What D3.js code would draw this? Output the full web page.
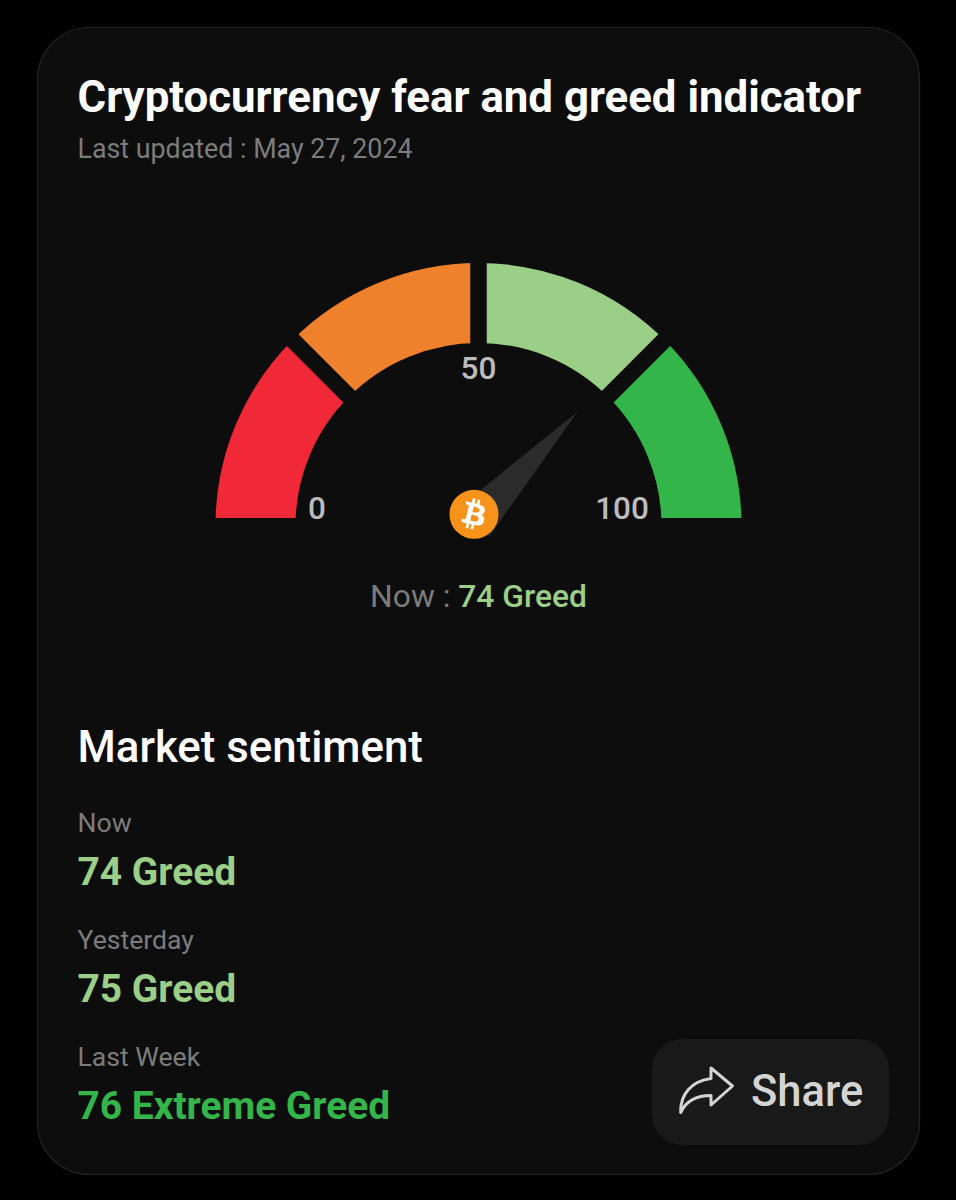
<!DOCTYPE html>
<html>
<head>
<meta charset="utf-8">
<script src="https://cdn.jsdelivr.net/npm/d3@7"></script>
<style>
html,body{margin:0;padding:0;background:#000;}
svg{display:block;font-family:Roboto,sans-serif;}
</style>
</head>
<body>
<svg id="chart" width="956" height="1200"></svg>
<script>
const gaugeStops = [0, 25, 50, 75, 100];
const gaugeColors = ["#f02838", "#ef802c", "#9bce86", "#33b54a"];
const gaugeTicks = [0, 50, 100];
const nowValue = 74;
const nowLabel = "Greed";
const sentimentPeriods = ["Now", "Yesterday", "Last Week"];
const sentimentValues = [74, 75, 76];
const sentimentLabels = ["Greed", "Greed", "Extreme Greed"];
const titleText = "Cryptocurrency fear and greed indicator";
const updatedText = "Last updated : May 27, 2024";

const svg = d3.select("#chart");
const cx = 478.5, cy = 526, rOuter = 263, rInner = 183, clipY = 518;
const pivot = [474, 522], needleLen = 151, needleHalf = 21;
const angle = d3.scaleLinear().domain([0, 100]).range([-Math.PI / 2, Math.PI / 2]);
const labelColor = v => v > 75 ? gaugeColors[3] : gaugeColors[2];

svg.append("rect").attr("width", 956).attr("height", 1200).attr("fill", "#000");
svg.append("rect").attr("x", 37.5).attr("y", 27.5).attr("width", 882).attr("height", 1147)
  .attr("rx", 52).attr("fill", "#0d0d0d").attr("stroke", "#232323").attr("stroke-width", 1.2);

svg.append("text").attr("x", 77.5).attr("y", 112).attr("font-size", 43.8).attr("font-weight", 700)
  .attr("fill", "#fff").text(titleText);
svg.append("text").attr("x", 77.5).attr("y", 158).attr("font-size", 26.8)
  .attr("fill", "#7c7c7c").text(updatedText);

// gauge
svg.append("clipPath").attr("id", "gclip").append("rect")
  .attr("x", 0).attr("y", 0).attr("width", 956).attr("height", clipY);
const arc = d3.arc().innerRadius(rInner).outerRadius(rOuter);
const bands = gaugeColors.map((c, i) => ({ c, a: gaugeStops[i], b: gaugeStops[i + 1] }));
const clipG = svg.append("g").attr("clip-path", "url(#gclip)");
const inner = clipG.append("g").attr("transform", `translate(${cx},${cy})`);
inner.selectAll("path").data(bands).join("path")
  .attr("d", d => arc({ startAngle: angle(d.a), endAngle: angle(d.b) }))
  .attr("fill", d => d.c);
inner.selectAll("line").data(gaugeStops.slice(1, -1)).join("line")
  .attr("x1", d => (rInner - 4) * Math.sin(angle(d)))
  .attr("y1", d => -(rInner - 4) * Math.cos(angle(d)))
  .attr("x2", d => (rOuter + 4) * Math.sin(angle(d)))
  .attr("y2", d => -(rOuter + 4) * Math.cos(angle(d)))
  .attr("stroke", "#0d0d0d").attr("stroke-width", 16.5);

// ticks
const tickX = d3.scaleLinear().domain([0, 50, 100]).range([317, 478.5, 622]);
const tickY = d3.scaleLinear().domain([0, 50, 100]).range([519, 379, 519]);
svg.selectAll("text.tick").data(gaugeTicks).join("text").attr("class", "tick")
  .attr("x", d => tickX(d)).attr("y", d => tickY(d))
  .attr("text-anchor", "middle").attr("font-size", 31.5).attr("font-weight", 500)
  .attr("fill", "#bcbcbc").text(d => d);

// needle
const a = angle(nowValue);
const ux = Math.sin(a), uy = -Math.cos(a);
const needlePts = [
  [pivot[0] - uy * needleHalf, pivot[1] + ux * needleHalf],
  [pivot[0] + ux * needleLen, pivot[1] + uy * needleLen],
  [pivot[0] + uy * needleHalf, pivot[1] - ux * needleHalf]
];
svg.append("path").attr("d", d3.line()(needlePts) + "Z").attr("fill", "#2b2b2b");

// bitcoin hub
const coin = svg.append("g").attr("transform", "translate(474,514.3)");
coin.append("circle").attr("r", 24.5).attr("fill", "#f7931a");
coin.append("path").attr("transform", "scale(0.766) translate(-32,-32)").attr("fill", "#fff")
  .attr("d", "M46.1 27.441c.644-4.3-2.631-6.612-7.106-8.153l1.452-5.825-3.545-.883-1.413 5.671c-.931-.232-1.888-.451-2.839-.669l1.423-5.708-3.544-.883-1.453 5.823c-.772-.176-1.53-.35-2.265-.533l.004-.018-4.889-1.221-.943 3.786s2.63.603 2.575.64c1.436.358 1.696 1.309 1.652 2.062l-1.654 6.634c.099.025.227.061.368.118l-.374-.093-2.319 9.293c-.176.436-.621 1.09-1.625.841.036.052-2.577-.643-2.577-.643l-1.76 4.058 4.614 1.15c.858.215 1.699.44 2.526.652l-1.467 5.891 3.542.883 1.453-5.829c.968.263 1.907.505 2.826.734l-1.448 5.802 3.546.883 1.467-5.881c6.047 1.144 10.594.683 12.508-4.786 1.542-4.403-.077-6.942-3.258-8.598 2.317-.534 4.062-2.058 4.526-5.205zm-8.101 11.36c-1.095 4.403-8.508 2.023-10.911 1.426l1.947-7.804c2.403.6 10.109 1.788 8.964 6.378zm1.097-11.424c-1 4.006-7.17 1.971-9.171 1.472l1.765-7.078c2.001.5 8.442 1.431 7.406 5.606z");

// now readout
const now = svg.append("text").attr("x", 478.5).attr("y", 607).attr("text-anchor", "middle").attr("font-size", 31.8);
now.append("tspan").attr("fill", "#7c7c7c").text("Now : ");
now.append("tspan").attr("fill", labelColor(nowValue)).attr("font-weight", 500).text(`${nowValue} ${nowLabel}`);

// sentiment list
svg.append("text").attr("x", 77.5).attr("y", 762).attr("font-size", 43.8).attr("font-weight", 500)
  .attr("fill", "#fff").text("Market sentiment");
const rowY = d3.scaleLinear().domain([0, 2]).range([832, 1066]);
const rows = svg.selectAll("g.row").data(sentimentPeriods).join("g").attr("class", "row")
  .attr("transform", (d, i) => `translate(77.5,${rowY(i)})`);
rows.append("text").attr("font-size", 26.6).attr("fill", "#7c7c7c").text(d => d);
rows.append("text").attr("y", 53).attr("font-size", 38.9).attr("font-weight", 700)
  .attr("fill", (d, i) => labelColor(sentimentValues[i]))
  .text((d, i) => `${sentimentValues[i]} ${sentimentLabels[i]}`);

// share button
svg.append("rect").attr("x", 652).attr("y", 1039).attr("width", 237).attr("height", 106).attr("rx", 30).attr("fill", "#191919");
svg.append("path").attr("fill", "none").attr("stroke", "#d4d4d4").attr("stroke-width", 3).attr("stroke-linejoin", "round").attr("stroke-linecap", "round")
  .attr("d", "M732.5 1086 L711 1068 L711 1078.5 C692 1081 680 1094 680.7 1112.5 C686 1101 697 1095.5 711 1095.5 L711 1105 Z");
svg.append("text").attr("x", 751).attr("y", 1105.5).attr("font-size", 43.5).attr("font-weight", 500).attr("fill", "#d4d4d4").text("Share");
</script>
</body>
</html>
